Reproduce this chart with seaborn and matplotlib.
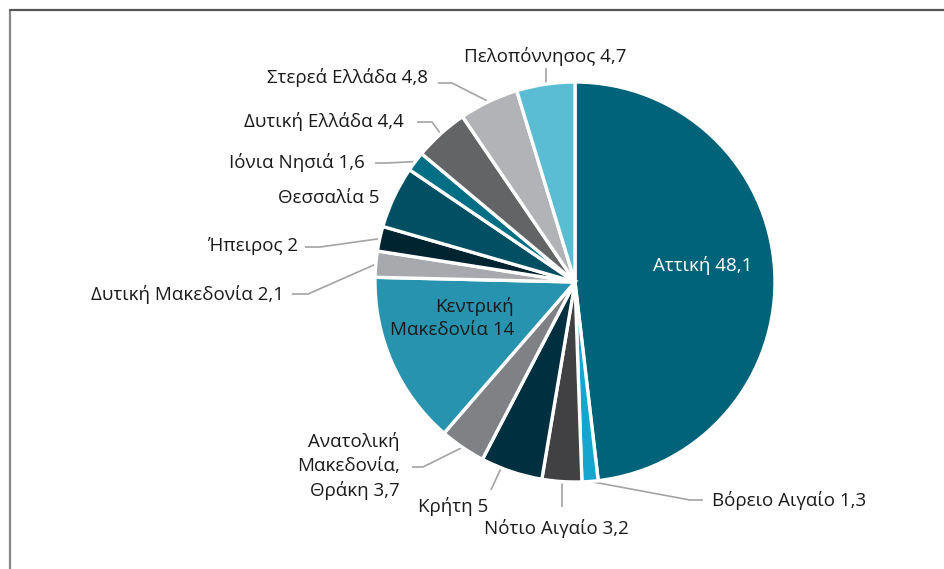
import matplotlib
matplotlib.use("Agg")
import matplotlib.pyplot as plt
import seaborn as sns
import numpy as np

# ---- data ----
regions = ["Αττική", "Βόρειο Αιγαίο", "Νότιο Αιγαίο", "Κρήτη",
           "Ανατολική\nΜακεδονία,\nΘράκη", "Κεντρική\nΜακεδονία", "Δυτική Μακεδονία",
           "Ήπειρος", "Θεσσαλία", "Ιόνια Νησιά", "Δυτική Ελλάδα",
           "Στερεά Ελλάδα", "Πελοπόννησος"]
values = [48.1, 1.3, 3.2, 5, 3.7, 14, 2.1, 2, 5, 1.6, 4.4, 4.8, 4.7]
colors = ["#00637A", "#14A6CF", "#414042", "#00303F", "#808184", "#2893AE",
          "#A7A9AC", "#012431", "#004F62", "#006F85", "#636466", "#B1B3B6", "#5BBDD3"]

# ---- layout (pixel positions of labels, y from top) ----
W, H = 944, 569
CX, CY, R = 575, 282, 200
label_pos = [  # (x, y, ha)
    (653, 265, "left"), (712, 500, "left"), (484, 528, "left"), (418, 507, "left"),
    (400, 466, "right"), (514, 318, "right"), (284, 294, "right"),
    (298, 246, "right"), (380, 198, "right"), (365, 162, "right"), (404, 121, "right"),
    (428, 77, "right"), (545, 56, "center")]
leaders = [
    None, [(690, 500), (703, 500)], [(None, 507)], [(491, 490)],
    [(423, 467), (412, 467)], None, [(308, 294), (292, 294)],
    [(320, 247), (305, 247)], None, [(387, 163), (375, 163)], [(432, 122), (417, 122)],
    [(452, 83), (438, 83)], [(None, 68)]]
anchor_r = [1, 1, 1, 0.96, 1, 1, 1, 1, 1, 1, 1, 1, 1]
anchor_shift = [0, 0, 0, -3, 0, 0, 0, 0, 0, 0, 0, 0, 0]
text_colors = ["white"] + ["#1a1a1a"] * 12

sns.set_theme(style="white")
plt.rcParams["font.family"] = ["Open Sans", "DejaVu Sans"]

fig = plt.figure(figsize=(W / 100, H / 100), dpi=100)
ax = fig.add_axes([0, 0, 1, 1])

palette = sns.color_palette(colors)
wedges, _ = ax.pie(values, colors=palette, startangle=90, counterclock=False,
                   center=(CX, H - CY), radius=R,
                   wedgeprops=dict(edgecolor="white", linewidth=2.4))
ax.set_xlim(0, W)
ax.set_ylim(0, H)
ax.set_aspect("equal")
ax.axis("off")

for i, (name, v) in enumerate(zip(regions, values)):
    val = f"{v:g}".replace(".", ",")
    txt = f"{name} {val}"
    x, y, ha = label_pos[i]
    ax.text(x, H - y, txt, ha=ha, va="center", fontsize=13.5,
            color=text_colors[i], multialignment=ha if ha != "center" else "center",
            linespacing=1.42)
    if leaders[i]:
        w = wedges[i]
        ang = np.deg2rad((w.theta1 + w.theta2) / 2 + anchor_shift[i])
        ax_ = CX + R * anchor_r[i] * np.cos(ang)
        ay_ = CY - R * anchor_r[i] * np.sin(ang)
        xs, ys = [ax_], [ay_]
        for px, py in leaders[i]:
            xs.append(ax_ if px is None else px)
            ys.append(py)
        ax.plot(xs, [H - yy for yy in ys], color="#A3A3A3", lw=1.2,
                solid_capstyle="butt", zorder=0.5)

# outer frame (runs off right and bottom edges)
fig.add_artist(plt.Line2D([10 / W, 10 / W], [0, 1 - 10 / H], color="#888888", lw=1.6))
fig.add_artist(plt.Line2D([10 / W, 1], [1 - 10 / H, 1 - 10 / H], color="#555555", lw=1.6))

fig.savefig("out.png", dpi=100, facecolor="white")
